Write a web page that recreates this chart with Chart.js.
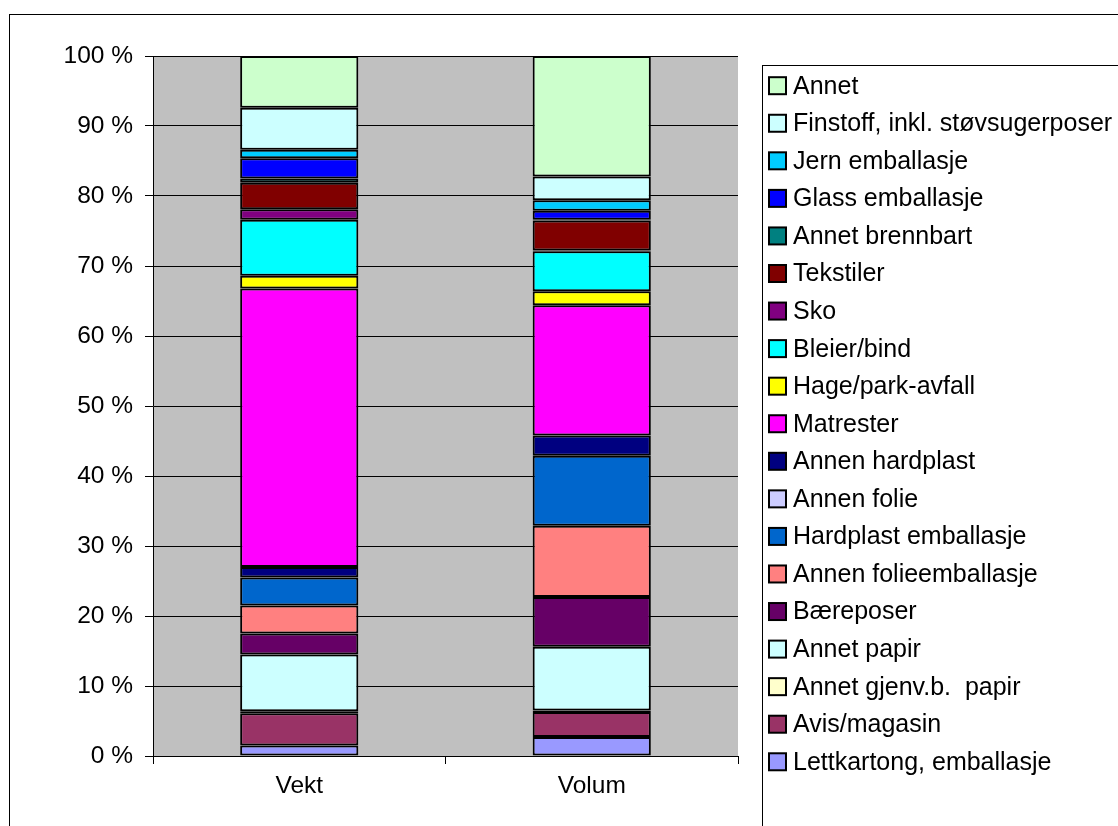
<!DOCTYPE html>
<html>
<head>
<meta charset="utf-8">
<script src="https://cdn.jsdelivr.net/npm/chart.js@4.4.1/dist/chart.umd.min.js"></script>
<style>
  html, body { margin: 0; padding: 0; background: #fff; overflow: hidden; }
  #wrap { width: 1118px; height: 826px; }
</style>
</head>
<body>
<div id="wrap"><canvas id="myChart" width="1118" height="826"></canvas></div>
<script>
const kategorier = ['Vekt', 'Volum'];

// fraksjoner fra bunnen og opp
const fraksjoner = [
  'Lettkartong, emballasje', 'Avis/magasin', 'Annet gjenv.b.  papir', 'Annet papir',
  'Bæreposer', 'Annen folieemballasje', 'Hardplast emballasje', 'Annen folie',
  'Annen hardplast', 'Matrester', 'Hage/park-avfall', 'Bleier/bind', 'Sko',
  'Tekstiler', 'Annet brennbart', 'Glass emballasje', 'Jern emballasje',
  'Finstoff, inkl. støvsugerposer', 'Annet'
];
const farger = [
  '#9999FF', '#993366', '#FFFFCC', '#CCFFFF',
  '#660066', '#FF8080', '#0066CC', '#CCCCFF',
  '#000080', '#FF00FF', '#FFFF00', '#00FFFF', '#800080',
  '#800000', '#008080', '#0000FF', '#00CCFF',
  '#CCFFFF', '#CCFFCC'
];
const vekt = [1.5, 4.6, 0.3, 8.1, 3.0, 4.0, 4.0, 0.0, 1.5, 39.8, 1.8, 8.0, 1.5, 3.8, 0.6, 2.9, 1.2, 6.0, 7.4];
const volum = [2.7, 3.6, 0.2, 9.1, 7.1, 10.2, 10.0, 0.0, 2.9, 18.6, 2.0, 5.7, 0.1, 4.3, 0.1, 1.3, 1.5, 3.4, 17.2];
const yTicks = [0, 10, 20, 30, 40, 50, 60, 70, 80, 90, 100];

const font = 'Liberation Sans, Arial, sans-serif';
const ctx = document.getElementById('myChart');

const datasets = fraksjoner.map((navn, i) => ({
  label: navn,
  data: [vekt[i], volum[i]],
  backgroundColor: farger[i],
  borderColor: '#000',
  borderWidth: 2,
  borderSkipped: false
}));

// grå bakgrunn i plottet, ramme rundt hele diagrammet og egen legende med ramme
const rammePlugin = {
  id: 'ramme',
  beforeDraw(chart) {
    const c = chart.ctx;
    const a = chart.chartArea;
    c.save();
    c.fillStyle = '#C0C0C0';
    c.fillRect(a.left, a.top, a.right - a.left, a.bottom - a.top);
    c.strokeStyle = '#000';
    c.lineWidth = 1;
    c.strokeRect(9.5, 14.5, 2000, 2000);
    c.restore();
  },
  afterDraw(chart) {
    const c = chart.ctx;
    c.save();
    c.fillStyle = '#fff';
    c.strokeStyle = '#000';
    c.lineWidth = 1;
    c.fillRect(762.5, 65.5, 1000, 1000);
    c.strokeRect(762.5, 65.5, 1000, 1000);
    c.font = '25px ' + font;
    c.textBaseline = 'middle';
    const ds = chart.data.datasets.slice().reverse();
    ds.forEach((d, i) => {
      const y = 85.7 + i * 37.56;
      c.fillStyle = d.backgroundColor;
      c.fillRect(769, y - 8.5, 17, 17);
      c.lineWidth = 2;
      c.strokeRect(769, y - 8.5, 17, 17);
      c.fillStyle = '#000';
      c.fillText(d.label, 793, y + 1);
    });
    c.restore();
  }
};

new Chart(ctx, {
  type: 'bar',
  data: {
    labels: kategorier,
    datasets: datasets
  },
  options: {
    responsive: false,
    animation: false,
    layout: { padding: { left: 10, top: 56, right: 380, bottom: 0 } },
    plugins: {
      legend: { display: false },
      tooltip: { enabled: false }
    },
    datasets: {
      bar: { categoryPercentage: 1, barPercentage: 0.404 }
    },
    scales: {
      x: {
        stacked: true,
        afterFit: (s) => { s.height = 70; },
        grid: { display: true, drawOnChartArea: false, offset: true, color: '#000', tickLength: 8 },
        border: { color: '#000', width: 1 },
        ticks: { color: '#000', font: { family: font, size: 24.5 }, padding: 8 }
      },
      y: {
        stacked: true,
        min: 0,
        max: 100,
        afterFit: (s) => { s.width = 143; },
        afterBuildTicks: (s) => { s.ticks = yTicks.map(v => ({ value: v })); },
        grid: { color: '#000', tickLength: 8 },
        border: { color: '#000', width: 1 },
        ticks: {
          color: '#000',
          font: { family: font, size: 24.5 },
          padding: 12,
          callback: (v) => v + ' %'
        }
      }
    }
  },
  plugins: [rammePlugin]
});
</script>
</body>
</html>
